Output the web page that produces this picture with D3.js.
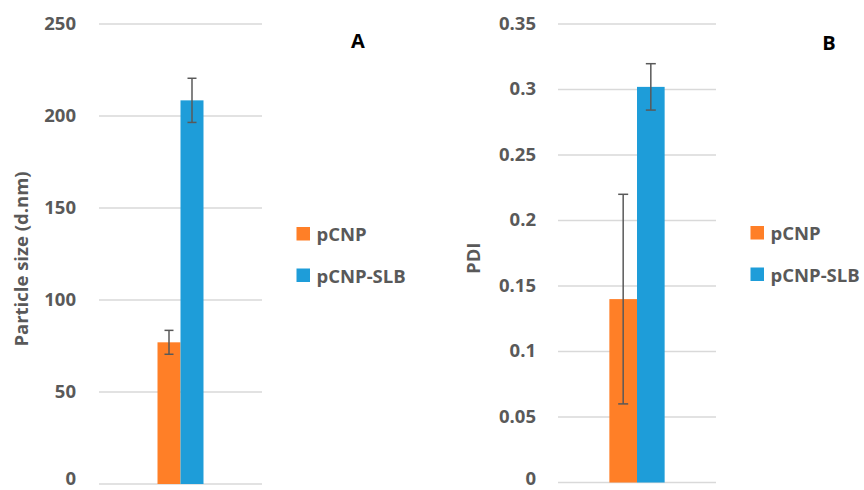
<!DOCTYPE html>
<html><head><meta charset="utf-8">
<script src="https://cdn.jsdelivr.net/npm/d3@7"></script>
<style>
body{margin:0;background:#fff;}
text{font-family:"Open Sans",sans-serif;font-weight:700;}
</style></head>
<body><svg id="c" width="864" height="490"></svg>
<script>
const series = ["pCNP", "pCNP-SLB"];
const colors = ["#FF7F27", "#1E9DD9"];
const sizeValues = [77, 208.5];
const sizeErrors = [6.5, 12];
const pdiValues = [0.14, 0.302];
const pdiErrors = [0.08, 0.0177];
const sizeTicks = [0, 50, 100, 150, 200, 250];
const sizeTickLabels = ["0", "50", "100", "150", "200", "250"];
const pdiTicks = [0, 0.05, 0.1, 0.15, 0.2, 0.25, 0.3, 0.35];
const pdiTickLabels = ["0", "0.05", "0.1", "0.15", "0.2", "0.25", "0.3", "0.35"];

const svg = d3.select("#c");
const H = 490;

function panel(o) {
  const g = svg.append("g");
  const y = d3.scaleLinear().domain(o.domain).range([o.y0, o.y1]);
  const x0 = d3.scaleBand().domain(["g"]).range([o.xl, o.xr]).paddingInner(0).paddingOuter(o.po);
  const x1 = d3.scaleBand().domain(series).range([0, x0.bandwidth()]);
  g.selectAll("line.grid").data(o.ticks).join("line")
    .attr("x1", o.xl).attr("x2", o.xr)
    .attr("y1", d => y(d)).attr("y2", d => y(d))
    .attr("stroke", "#d9d9d9").attr("stroke-width", 1.5);
  const fs = 18.5;
  g.selectAll("text.tick").data(o.ticks).join("text")
    .attr("x", o.labelX)
    // keep the baseline + descent inside the picture
    .attr("y", d => Math.min(y(d) + 0.3 * fs, H - 0.27 * fs))
    .attr("text-anchor", "end")
    .attr("font-size", fs).attr("fill", "#595959")
    .text((d, i) => o.tickLabels[i]);
  g.selectAll("rect.bar").data(series).join("rect")
    .attr("x", d => x0("g") + x1(d)).attr("width", x1.bandwidth())
    .attr("y", (d, i) => y(o.values[i]))
    .attr("height", (d, i) => y(0) - y(o.values[i]))
    .attr("fill", (d, i) => colors[i]);
  series.forEach((s, i) => {
    const cx = x0("g") + x1(s) + x1.bandwidth() / 2;
    const top = y(o.values[i] + o.errors[i]), bot = y(o.values[i] - o.errors[i]);
    const eg = g.append("g").attr("stroke", "#595959").attr("stroke-width", 1.5);
    eg.append("line").attr("x1", cx).attr("x2", cx).attr("y1", top).attr("y2", bot);
    eg.append("line").attr("x1", cx - o.cap).attr("x2", cx + o.cap).attr("y1", top).attr("y2", top);
    eg.append("line").attr("x1", cx - o.cap).attr("x2", cx + o.cap).attr("y1", bot).attr("y2", bot);
  });
  g.append("text")
    .attr("transform", `translate(${o.titleX},${(o.y0 + o.y1) / 2 + 5}) rotate(-90)`)
    .attr("text-anchor", "middle").attr("font-size", fs).attr("fill", "#595959")
    .text(o.title);
  g.append("text").attr("x", o.letterX).attr("y", o.letterY).attr("text-anchor", "middle")
    .attr("font-size", 20).attr("fill", "#000").text(o.letter);
  series.forEach((s, i) => {
    g.append("rect").attr("x", o.legX).attr("y", o.legY + i * 41.5).attr("width", 13.5).attr("height", 13.5)
      .attr("fill", colors[i]);
    g.append("text").attr("x", o.legX + 20).attr("y", o.legY + 14 + i * 41.5)
      .attr("font-size", fs).attr("fill", "#595959").text(s);
  });
}

panel({domain: [0, 250], y0: 484, y1: 24, xl: 99, xr: 262, po: 1.272, ticks: sizeTicks,
  tickLabels: sizeTickLabels, labelX: 76, values: sizeValues, errors: sizeErrors, cap: 4.5,
  title: "Particle size (d.nm)", titleX: 28, letter: "A", letterX: 358, letterY: 48,
  legX: 296.5, legY: 227});
panel({domain: [0, 0.35], y0: 482.5, y1: 24, xl: 558, xr: 716, po: 0.929, ticks: pdiTicks,
  tickLabels: pdiTickLabels, labelX: 536, values: pdiValues, errors: pdiErrors, cap: 5,
  title: "PDI", titleX: 480, letter: "B", letterX: 829, letterY: 50,
  legX: 750.5, legY: 226});
</script></body></html>
